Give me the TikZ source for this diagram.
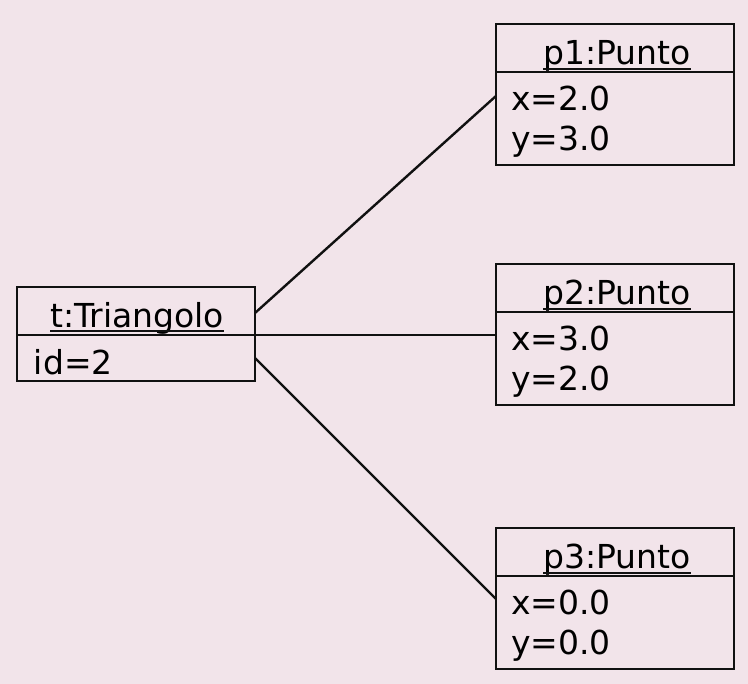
\documentclass[tikz,border=0pt]{standalone}
\usepackage{fontspec}
\setmainfont{DejaVu Sans}
\definecolor{bg}{HTML}{F2E4EA}
\definecolor{ink}{HTML}{111111}
\begin{document}
\begin{tikzpicture}[x=1pt,y=-1pt,
  box/.style={draw=ink, line width=2.6pt, minimum width=238pt, anchor=north west, inner sep=0pt, outer sep=0pt},
  hdr/.style={box, minimum height=48pt},
  pbody/.style={box, minimum height=93pt},
  tbody/.style={box, minimum height=46pt},
  txt/.style={inner sep=0pt, outer sep=0pt, text=black, font=\fontsize{33}{39}\selectfont},
  ttl/.style={txt, anchor=base},
  attr/.style={txt, anchor=base west},
  uline/.style={draw=ink, line width=2.2pt},
  link/.style={draw=ink, line width=2.4pt}]
\fill[bg] (0,0) rectangle (748,684);
\useasboundingbox (0,0) rectangle (748,684);

% t:Triangolo
\node[hdr] (th) at (17,287) {};
\node[tbody] (tb) at (17,335) {};
\node[ttl] (tt) at (137,328) {t:Triangolo};
\draw[uline] ([yshift=-3pt]tt.base west) -- ([yshift=-3pt]tt.base east);
\node[attr] (ta) at (34,375) {id=2};

% p1:Punto
\node[hdr] (p1h) at (496,24) {};
\node[pbody] (p1b) at (496,72) {};
\node[ttl] (p1t) at (617,65) {p1:Punto};
\draw[uline] ([yshift=-4pt]p1t.base west) -- ([yshift=-4pt]p1t.base east);
\node[attr] (p1x) at (511,111) {x=2.0};
\node[attr] (p1y) at (511,151) {y=3.0};

% p2:Punto
\node[hdr] (p2h) at (496,264) {};
\node[pbody] (p2b) at (496,312) {};
\node[ttl] (p2t) at (617,305) {p2:Punto};
\draw[uline] ([yshift=-4pt]p2t.base west) -- ([yshift=-4pt]p2t.base east);
\node[attr] (p2x) at (511,351) {x=3.0};
\node[attr] (p2y) at (511,391) {y=2.0};

% p3:Punto
\node[hdr] (p3h) at (496,528) {};
\node[pbody] (p3b) at (496,576) {};
\node[ttl] (p3t) at (617,569) {p3:Punto};
\draw[uline] ([yshift=-4pt]p3t.base west) -- ([yshift=-4pt]p3t.base east);
\node[attr] (p3x) at (511,615) {x=0.0};
\node[attr] (p3y) at (511,655) {y=0.0};

% links
\draw[link] ([yshift=22pt]th.south east) -- ([yshift=-24pt]p1b.north west);
\draw[link] (th.south east) -- (th.south east -| p2b.west);
\draw[link] ([yshift=-23pt]tb.north east) -- ([yshift=-23pt]p3b.north west);
\end{tikzpicture}
\end{document}
